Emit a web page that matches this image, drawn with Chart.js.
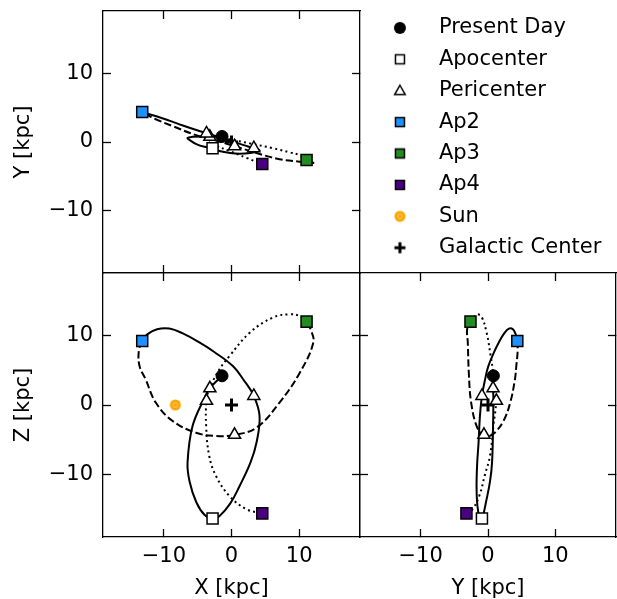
<!DOCTYPE html>
<html>
<head>
<meta charset="utf-8">
<script src="https://cdn.jsdelivr.net/npm/chart.js@4.4.0/dist/chart.umd.min.js"></script>
<style>
  html, body { margin: 0; padding: 0; background: #fff; overflow: hidden; }
  canvas { position: absolute; left: 0; top: 0; }
</style>
</head>
<body>
<canvas id="xy" width="617" height="599"></canvas>
<canvas id="xz" width="617" height="599"></canvas>
<canvas id="yz" width="617" height="599"></canvas>
<canvas id="key" width="900" height="599"></canvas>
<script>
// orbit traced back in time, kpc (read off the three projections)
// present day -> pericenter -> apocenter -> pericenter -> Ap2 (solid)
const orbit1X = [-1.4, -3.2, -4.0, -5.75, -6.5, -6.2, -5.2, -4.0, -2.8, -1.8, -0.2, 1.2, 2.8, 3.7, 4.15, 3.3, 1.8, 0.2, -2.5, -4.75, -7.2, -9.2, -11.0, -12.4, -13.2];
const orbit1Y = [0.8, 0.75, 0.8, 0.75, 0.6, 0.3, -0.3, -0.7, -0.9, -1.3, -1.6, -1.7, -1.6, -1.4, -1.2, -0.9, -0.45, 0.05, 0.9, 1.6, 2.4, 3.1, 3.7, 4.1, 4.35];
const orbit1Z = [4.2, 2.4, 1.0, -3.0, -8.3, -11.0, -14.0, -15.8, -16.35, -16.0, -14.2, -11.65, -8.3, -5.4, -1.6, 1.3, 3.6, 5.6, 7.6, 9.0, 10.3, 11.0, 10.9, 10.2, 9.2];
// Ap2 -> pericenter -> Ap3 (dashed)
const orbit2X = [-13.2, -13.7, -13.6, -12.7, -11.2, -8.7, -5.25, -2.3, 0.45, 3.7, 7.1, 10.1, 12.1, 11.7, 11.1];
const orbit2Y = [4.35, 4.4, 4.2, 4.0, 3.3, 2.3, 1.0, 0.2, -0.6, -1.6, -2.5, -2.85, -3.0, -3.1, -2.6];
const orbit2Z = [9.2, 7.8, 5.6, 3.7, 0.35, -2.3, -4.0, -4.45, -4.3, -3.25, 0.35, 4.65, 9.0, 10.9, 12.0];
// Ap3 -> pericenter -> Ap4 (dotted)
const orbit3X = [11.1, 10.1, 8.6, 6.15, 2.7, -0.3, -1.8, -3.3, -3.7, -3.75, -3.3, -2.3, -0.3, 2.2, 4.55];
const orbit3Y = [-2.6, -1.9, -1.5, -0.9, -0.2, 0.4, 0.7, 0.9, 1.2, 0.8, 0.3, -0.5, -1.3, -2.3, -3.2];
const orbit3Z = [12.0, 12.8, 13.05, 12.6, 10.4, 7.05, 5.1, 2.25, 0.6, -3.0, -7.3, -10.2, -13.1, -15.0, -15.6];

// markers, [X, Y, Z]
const presentDay = [-1.4, 0.8, 4.2];
const apocenter = [-2.8, -0.9, -16.35];
const periX = [-3.2, 3.3, 0.45, -3.7];
const periY = [0.75, -0.9, -0.6, 1.25];
const periZ = [2.4, 1.3, -4.3, 0.6];
const ap2 = [-13.2, 4.35, 9.2];
const ap3 = [11.1, -2.6, 12.0];
const ap4 = [4.55, -3.2, -15.6];
const sun = [-8.3, 0, 0];
const galCenter = [0, 0, 0];

const legendNames = ['Present Day', 'Apocenter', 'Pericenter', 'Ap2', 'Ap3', 'Ap4', 'Sun', 'Galactic Center'];
const tickValues = [-10, 0, 10];
const axisMin = -19, axisMax = 19;

const ap2Color = '#1E90FF', ap3Color = '#228B22', ap4Color = '#4B0082', sunColor = '#FFA500';

Chart.defaults.font.family = "'DejaVu Sans', sans-serif";
Chart.defaults.font.size = 21;
Chart.defaults.color = '#000';

function glyph(kind, fill) {
    const c = document.createElement('canvas');
    c.width = 18; c.height = 18;
    const g = c.getContext('2d');
    g.translate(9, 9);
    g.fillStyle = fill; g.strokeStyle = '#000'; g.lineWidth = 1.5;
    g.beginPath();
    if (kind === 'circle') { g.arc(0, 0, 6, 0, 2 * Math.PI); g.fill(); }
    else if (kind === 'square') { g.rect(-4.5, -4.5, 9, 9); g.fill(); g.stroke(); }
    else if (kind === 'triangle') { g.moveTo(0, -5.5); g.lineTo(5.3, 3.8); g.lineTo(-5.3, 3.8); g.closePath(); g.fill(); g.stroke(); }
    else if (kind === 'cross') { g.lineWidth = 3; g.moveTo(-5.5, 0); g.lineTo(5.5, 0); g.moveTo(0, -5.5); g.lineTo(0, 5.5); g.stroke(); }
    else if (kind === 'sun') {
        g.arc(0, 0, 5.5, 0, 2 * Math.PI); g.fill();
        g.beginPath(); g.strokeStyle = '#ffd68f'; g.lineWidth = 0.8; g.arc(0, 0, 2.3, 0, 2 * Math.PI); g.stroke();
    }
    return c;
}
const sunGlyph = glyph('sun', sunColor);

function fmt(v) { return v < 0 ? '\u2212' + Math.abs(v) : String(v); }

function axis(id, position, size, labels, title) {
    return {
        type: 'linear', axis: id, position: position, min: axisMin, max: axisMax,
        afterBuildTicks: s => { s.ticks = tickValues.map(v => ({ value: v })); },
        afterFit: s => {
            if (s.isHorizontal()) s.height = size; else s.width = size;
            s.paddingTop = s.paddingBottom = s.paddingLeft = s.paddingRight = 0;
        },
        ticks: { display: labels, autoSkip: false, maxRotation: 0, padding: id === 'x' ? 15 : 18, callback: fmt },
        grid: { display: true, drawOnChartArea: false, drawTicks: true, tickLength: -8, tickWidth: 1.3, tickColor: '#000' },
        border: { display: true, color: '#000', width: 1.3 },
        title: { display: !!title, text: title || '', padding: id === 'x' ? { top: 0, bottom: -2 } : { top: 11, bottom: 0 } }
    };
}

function pts(a, b) { return a.map((v, i) => ({ x: v, y: b[i] })); }
function pt(m, i, j) { return [{ x: m[i], y: m[j] }]; }

function panel(id, i, j, withSun, pad, yWidth, xHeight, xLabel, yLabel) {
    const o1 = [orbit1X, orbit1Y, orbit1Z];
    const o2 = [orbit2X, orbit2Y, orbit2Z];
    const o3 = [orbit3X, orbit3Y, orbit3Z];
    const per = [periX, periY, periZ];
    const square = (m, col) => ({ data: pt(m, i, j), pointStyle: 'rect', pointRadius: 7.8, backgroundColor: col, borderColor: '#000', borderWidth: 1.5 });
    const datasets = [
        { data: pt(presentDay, i, j), pointStyle: 'circle', pointRadius: 6, backgroundColor: '#000', borderColor: '#000', borderWidth: 1 },
        square(apocenter, '#fff'),
        { data: pts(per[i], per[j]), pointStyle: 'triangle', pointRadius: 7, backgroundColor: '#fff', borderColor: '#000', borderWidth: 1.5 },
        square(ap2, ap2Color),
        square(ap3, ap3Color),
        square(ap4, ap4Color),
        { data: pt(galCenter, i, j), pointStyle: 'cross', pointRadius: 6.5, borderColor: '#000', borderWidth: 3 },
        { data: pts(o1[i], o1[j]), showLine: true, pointRadius: 0, borderColor: '#000', borderWidth: 2, tension: 0.4 },
        { data: pts(o2[i], o2[j]), showLine: true, pointRadius: 0, borderColor: '#000', borderWidth: 2, borderDash: [7.4, 3.2], tension: 0.4 },
        { data: pts(o3[i], o3[j]), showLine: true, pointRadius: 0, borderColor: '#000', borderWidth: 2, borderDash: [2, 3.3], tension: 0.4 }
    ];
    if (withSun) datasets.splice(6, 0, { data: pt(sun, i, j), pointStyle: sunGlyph, pointRadius: 6 });
    new Chart(document.getElementById(id), {
        type: 'scatter',
        data: { datasets: datasets },
        options: {
            responsive: false, animation: false, events: [],
            layout: { padding: pad, autoPadding: false },
            scales: {
                x: axis('x', 'bottom', xHeight, !!xLabel, xLabel),
                y: axis('y', 'left', yWidth, !!yLabel, yLabel),
                xTop: axis('x', 'top', 0, false),
                yRight: axis('y', 'right', 0, false)
            },
            plugins: { legend: { display: false }, tooltip: { enabled: false } }
        }
    });
}

panel('xy', 0, 1, false, { left: 0, top: 11, right: 257, bottom: 326 }, 103, 0, null, 'Y [kpc]');
panel('xz', 0, 2, true, { left: 0, top: 273, right: 257, bottom: 0 }, 103, 62, 'X [kpc]', 'Z [kpc]');
panel('yz', 1, 2, false, { left: 360, top: 273, right: 1, bottom: 0 }, 0, 62, 'Y [kpc]', null);

const keyGlyphs = [glyph('circle', '#000'), glyph('square', '#fff'), glyph('triangle', '#fff'),
    glyph('square', ap2Color), glyph('square', ap3Color), glyph('square', ap4Color), sunGlyph, glyph('cross', '#000')];

new Chart(document.getElementById('key'), {
    type: 'scatter',
    data: { datasets: legendNames.map((name, k) => ({ label: name, data: [], pointStyle: keyGlyphs[k] })) },
    options: {
        responsive: false, animation: false, events: [],
        layout: { padding: { left: 361, top: 7 } },
        scales: { x: { display: false }, y: { display: false } },
        plugins: {
            legend: { position: 'left', align: 'start',
                labels: { usePointStyle: true, pointStyleWidth: 57, padding: 10.4, color: '#000', font: { size: 21 } } },
            tooltip: { enabled: false }
        }
    }
});
</script>
</body>
</html>
